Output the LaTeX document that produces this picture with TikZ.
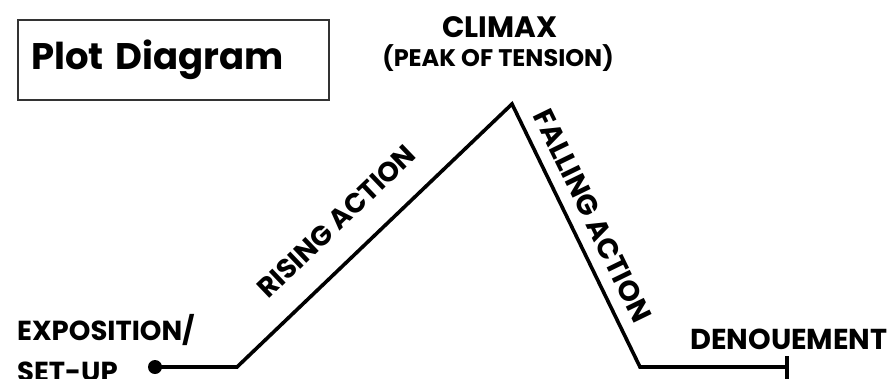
\documentclass[tikz,border=0pt]{standalone}
\usepackage{fontspec}
\newfontfamily\pfont{Poppins}
\tikzset{
  lbl/.style={font=\pfont\bfseries, inner sep=0pt, text=black},
  plotline/.style={line width=3.6pt, black, line join=miter},
  titlebox/.style={draw=black!80, line width=2pt, minimum width=311pt, minimum height=80pt, text width=285pt, align=left, inner xsep=13pt, inner ysep=0pt}
}
\newcommand{\fs}[1]{\fontsize{#1}{#1}\selectfont}
\begin{document}
\begin{tikzpicture}[x=1pt,y=-1pt]
\useasboundingbox (0,0) rectangle (893,378);
% title
\node[titlebox, anchor=north west, font=\pfont\bfseries\fs{37}] (title) at (17,19) {Plot Diagram};
% labels
\node[lbl, font=\pfont\bfseries\fs{29.5}, anchor=base] (climax) at (500,37) {CLIMAX};
\node[lbl, font=\pfont\bfseries\fs{24}, anchor=base] (peak) at (498,66) {(PEAK OF TENSION)};
\node[lbl, font=\pfont\bfseries\fs{27.5}, anchor=base west] (expo) at (17,340) {EXPOSITION/};
\node[lbl, font=\pfont\bfseries\fs{27.5}, anchor=base west] (setup) at (17,381) {SET-UP};
\node[lbl, font=\pfont\bfseries\fs{28.8}, anchor=base west] (denoue) at (690,349) {DENOUEMENT};
% plot points
\node[circle, fill=black, inner sep=0pt, minimum size=14pt] (start) at (155,367) {};
\coordinate (rs) at (237,367);
\coordinate (pk) at (512,104);
\coordinate (fe) at (640,367);
\coordinate (en) at (787,367);
\coordinate (tt) at (787,356);
\coordinate (tb) at (787,380);
\draw[plotline] (start.center) -- (rs) -- (pk) -- (fe) -- (en);
\draw[plotline] (tt) -- (tb);
% slanted labels
\node[lbl, font=\pfont\bfseries\fs{27.5}, rotate=43.7] (rising) at (336.6,221.4) {RISING ACTION};
\node[lbl, font=\pfont\bfseries\fs{28.5}, rotate=-64.05] (falling) at (592.6,215.6) {FALLING ACTION};
\end{tikzpicture}
\end{document}
